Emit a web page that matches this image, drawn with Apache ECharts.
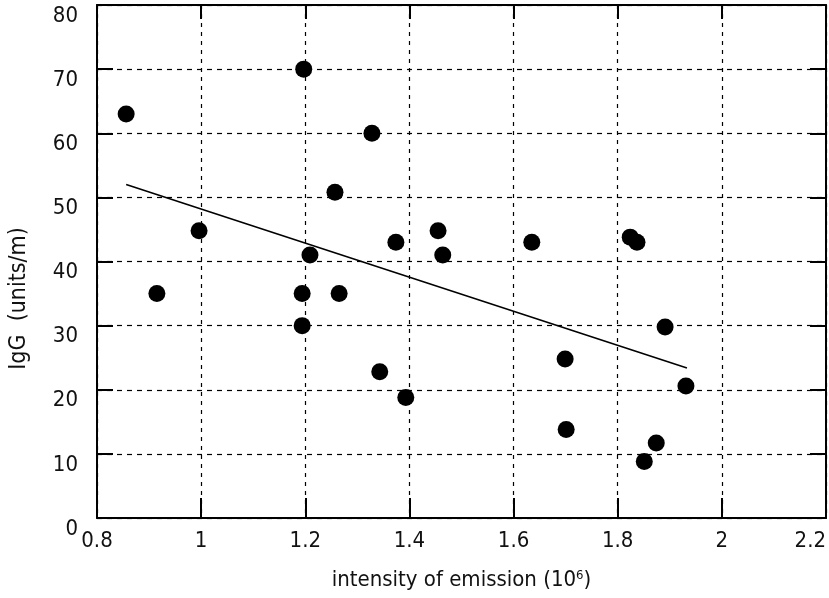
<!DOCTYPE html>
<html>
<head>
<meta charset="utf-8">
<script src="https://cdn.jsdelivr.net/npm/echarts@6/dist/echarts.min.js"></script>
<style>
html,body{margin:0;padding:0;background:#fff;}
#c{width:829px;height:598px;}
</style>
</head>
<body>
<div id="c"></div>
<script>
// Data
const pointsX = [0.856, 0.915, 0.996, 1.197, 1.209, 1.194, 1.265, 1.194, 1.257, 1.328, 1.374, 1.343, 1.393, 1.455, 1.464, 1.635, 1.824, 1.837, 1.699, 1.701, 1.891, 1.931, 1.874, 1.851];
const pointsY = [63.0, 35.0, 44.8, 70.0, 41.0, 35.0, 35.0, 30.0, 50.8, 60.0, 43.0, 22.8, 18.8, 44.8, 41.0, 43.0, 43.8, 43.0, 24.8, 13.8, 29.8, 20.6, 11.7, 8.8];
const trendX = [0.856, 1.933];
const trendY = [52.0, 23.4];
const xTicks = [0.8, 1.0, 1.2, 1.4, 1.6, 1.8, 2.0, 2.2];
const yTicks = [0, 10, 20, 30, 40, 50, 60, 70, 80];

const FONT = '"Liberation Sans Narrow", "DejaVu Sans Condensed", "Liberation Sans", sans-serif';

const scatterData = pointsX.map((x, i) => [x, pointsY[i]]);
const trendData = trendX.map((x, i) => [x, trendY[i]]);

const chart = echarts.init(document.getElementById('c'), null, {renderer: 'canvas'});

const xBase = {
  type: 'value',
  min: xTicks[0],
  max: xTicks[xTicks.length - 1],
  interval: 0.2,
};
const yBase = {
  type: 'value',
  min: yTicks[0],
  max: yTicks[yTicks.length - 1],
  interval: 10,
};

chart.setOption({
  animation: false,
  backgroundColor: '#fff',
  grid: {left: 97, right: 3, top: 5, bottom: 80, containLabel: false, outerBoundsMode: 'none'},
  xAxis: [
    Object.assign({}, xBase, {
      position: 'bottom',
      name: 'intensity of emission (10{s|6})',
      nameLocation: 'middle',
      nameGap: 51,
      nameTextStyle: {
        color: '#111', fontFamily: FONT, fontSize: 22,
        rich: {s: {fontSize: 13, verticalAlign: 'top', padding: [0, 0, 10, 0], fontFamily: FONT, color: '#111'}}
      },
      axisLine: {show: true, onZero: false, lineStyle: {color: '#000', width: 2}},
      axisTick: {show: true, inside: true, length: 20, lineStyle: {color: '#000', width: 2}},
      axisLabel: {
        show: true, margin: 12, color: '#111', fontFamily: FONT, fontSize: 22,
        alignMaxLabel: 'right',
        formatter: v => String(+v.toFixed(1))
      },
      splitLine: {show: true, lineStyle: {color: '#000', width: 1.2, type: [4, 5]}}
    }),
    Object.assign({}, xBase, {
      position: 'top',
      axisLine: {show: true, onZero: false, lineStyle: {color: '#000', width: 2}},
      axisTick: {show: true, inside: true, length: 14, lineStyle: {color: '#000', width: 2}},
      axisLabel: {show: false},
      splitLine: {show: false}
    })
  ],
  yAxis: [
    Object.assign({}, yBase, {
      position: 'left',
      name: 'IgG  (units/m)',
      nameLocation: 'middle',
      nameGap: 66,
      nameRotate: 90,
      nameTextStyle: {color: '#111', fontFamily: FONT, fontSize: 23, padding: [0, 74, 0, 0]},
      axisLine: {show: true, onZero: false, lineStyle: {color: '#000', width: 2}},
      axisTick: {show: true, inside: true, length: 16, lineStyle: {color: '#000', width: 2}},
      axisLabel: {
        show: true, margin: 19, color: '#111', fontFamily: FONT, fontSize: 22,
        verticalAlign: 'top'
      },
      splitLine: {show: true, lineStyle: {color: '#000', width: 1.2, type: [5, 5]}}
    }),
    Object.assign({}, yBase, {
      position: 'right',
      axisLine: {show: true, onZero: false, lineStyle: {color: '#000', width: 2}},
      axisTick: {show: true, inside: true, length: 16, lineStyle: {color: '#000', width: 2}},
      axisLabel: {show: false},
      splitLine: {show: false}
    })
  ],
  series: [
    {
      type: 'line',
      xAxisIndex: 0, yAxisIndex: 0,
      data: trendData,
      symbol: 'none',
      lineStyle: {color: '#000', width: 1.6},
      z: 3
    },
    {
      type: 'scatter',
      xAxisIndex: 0, yAxisIndex: 0,
      data: scatterData,
      symbol: 'circle',
      symbolSize: 17,
      itemStyle: {color: '#000', opacity: 1},
      z: 4
    }
  ]
});
</script>
</body>
</html>
